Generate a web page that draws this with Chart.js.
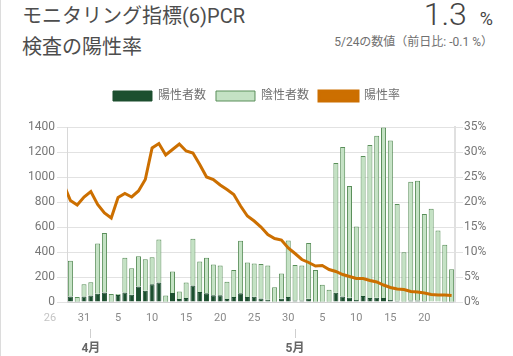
<!DOCTYPE html>
<html>
<head>
<meta charset="utf-8">
<script src="https://cdn.jsdelivr.net/npm/chart.js@4/dist/chart.umd.min.js"></script>
<style>
  html, body { margin:0; padding:0; background:#fff; }
  body { width:513px; height:356px; position:relative; overflow:hidden; font-family: Roboto, 'Noto Sans CJK JP', sans-serif; }
  #leftline { position:absolute; left:0; top:0; width:1px; height:356px; background:#dcdcdc; }
  #title { position:absolute; left:22px; top:1px; font-size:20px; line-height:31px; color:#4d4d4d; white-space:nowrap; }
  #value { position:absolute; right:20px; top:-2px; line-height:32px; color:#444; white-space:nowrap; }
  #value .num { font-size:32px; font-weight:300; }
  #value .unit { font-size:18px; margin-left:13px; }
  #sub { position:absolute; right:20px; top:35px; font-size:12px; line-height:15px; color:#707070; white-space:nowrap; }
  #wrap { position:absolute; left:0; top:80px; width:513px; height:276px; }
</style>
</head>
<body>
<div id="leftline"></div>
<div id="title">モニタリング指標(6)PCR<br>検査の陽性率</div>
<div id="value"><span class="num">1.3</span><span class="unit">%</span></div>
<div id="sub">5/24の数値（前日比: -0.1 %）</div>
<div id="wrap"><canvas id="c"></canvas></div>
<script>
// ---- data ----
const dates = ['3/28','3/29','3/30','3/31',
  '4/1','4/2','4/3','4/4','4/5','4/6','4/7','4/8','4/9','4/10',
  '4/11','4/12','4/13','4/14','4/15','4/16','4/17','4/18','4/19','4/20',
  '4/21','4/22','4/23','4/24','4/25','4/26','4/27','4/28','4/29','4/30',
  '5/1','5/2','5/3','5/4','5/5','5/6','5/7','5/8','5/9','5/10',
  '5/11','5/12','5/13','5/14','5/15','5/16','5/17','5/18','5/19','5/20',
  '5/21','5/22','5/23','5/24'];
const positives = [null,45,3,45,
  53,66,77,3,56,77,58,125,90,143,
  156,3,72,25,33,132,80,70,55,54,
  24,40,70,40,42,29,19,3,27,40,
  13,13,27,3,3,3,74,45,35,16,
  48,32,34,32,16,11,3,13,13,8,
  5,5,3,3];
const negatives = [null,286,37,98,
  106,403,475,61,8,278,213,241,252,215,
  344,50,173,60,124,374,245,285,245,238,
  139,217,420,277,267,276,273,116,201,453,
  284,279,445,254,135,95,1039,1195,893,588,
  1121,1224,1296,1365,1277,773,395,949,957,697,
  742,567,455,259];
const rates = [23.6,20.3,19.4,21.0,
  22.1,19.5,17.8,16.8,20.9,21.7,21.0,22.2,24.5,30.8,
  31.7,29.4,30.5,31.6,30.2,29.8,27.5,25.0,24.5,23.4,
  22.5,21.5,19.2,17.2,16.2,15.0,13.5,12.7,12.4,10.8,
  9.7,8.5,7.9,7.2,7.3,6.5,6.1,5.5,5.1,4.7,
  4.7,4.3,4.0,3.4,2.9,2.6,2.5,2.1,2.0,1.8,
  1.5,1.4,1.4,1.3];
const firstShownDate = '3/29';
const dayTickDates = ['3/31','4/5','4/10','4/15','4/20','4/25','4/30','5/5','5/10','5/15','5/20'];
const fadedTickLabel = '26';      // 3/26, just left of the visible range
const fadedTickDaysBefore = 2;    // days before dates[0]
const monthTickDates = ['4/1','5/1'];
const monthTickLabels = ['4月','5月'];
const seriesNames = ['陽性者数','陰性者数','陽性率'];
const leftTicks = [0,200,400,600,800,1000,1200,1400];
const rightTicks = [0,5,10,15,20,25,30,35];

const FONT = "Roboto, 'Noto Sans CJK JP', sans-serif";

const legendSpace = {
  id: 'legendSpace',
  beforeInit(chart) {
    const fit = chart.legend.fit;
    chart.legend.fit = function() { fit.bind(chart.legend)(); this.height += 15; };
  }
};
const fadedTick = {
  id: 'fadedTick',
  afterDraw(chart) {
    const xs = chart.scales.x;
    const ctx = chart.ctx;
    const px = xs.getPixelForValue(-fadedTickDaysBefore);
    ctx.save();
    ctx.fillStyle = '#c4c4c4';
    ctx.font = '11px ' + FONT;
    ctx.textAlign = 'center';
    ctx.textBaseline = 'middle';
    ctx.fillText(fadedTickLabel, px, xs.top + 16.5);
    ctx.restore();
  }
};

new Chart(document.getElementById('c'), {
  data: {
    labels: dates,
    datasets: [
      { type:'bar', label: seriesNames[0], data: positives, backgroundColor:'#1c4f2f', borderColor:'#1c4f2f', borderWidth:1,
        stack:'s', yAxisID:'y', order:1, barPercentage:0.74, categoryPercentage:1 },
      { type:'bar', label: seriesNames[1], data: negatives, backgroundColor:'#c4e2c4', borderColor:'#5a8f5a', borderWidth:1,
        stack:'s', yAxisID:'y', order:1, barPercentage:0.74, categoryPercentage:1 },
      { type:'line', label: seriesNames[2], data: rates, borderColor:'#cc6f00', backgroundColor:'#cc6f00', borderWidth:3,
        pointRadius:0, tension:0, yAxisID:'y1', order:0, clip:0 }
    ]
  },
  options: {
    responsive:true, maintainAspectRatio:false, animation:false,
    layout: { padding: 0 },
    plugins: {
      legend: { position:'top',
        labels: { boxWidth:39, boxHeight:10, padding:10, color:'#707070', font:{ size:12, family:FONT },
          sort:(a,b)=>a.datasetIndex-b.datasetIndex } },
      tooltip: { enabled:false }
    },
    scales: {
      x: { type:'category', stacked:true, offset:true, min:firstShownDate,
        grid:{ display:false, drawTicks:false }, border:{ display:true, color:'#d0d0d0' },
        ticks:{ autoSkip:false, maxRotation:0, padding:10, color:'#8a8a8a', font:{ size:11, family:FONT },
          callback(v){ const d = dates[v]; return dayTickDates.includes(d) ? d.split('/')[1] : ''; } },
        afterFit(s){ s.height = 27; } },
      x2: { type:'category', position:'bottom', offset:true, min:firstShownDate,
        grid:{ display:true, drawOnChartArea:false, drawTicks:true, tickLength:9, offset:false, color:'#cfcfcf' },
        border:{ display:false },
        ticks:{ autoSkip:false, maxRotation:0, padding:4, color:'#666', font:{ size:12, weight:'bold', family:FONT },
          callback(v){ const i = monthTickDates.indexOf(dates[v]); return i >= 0 ? monthTickLabels[i] : null; } },
        afterFit(s){ s.height = 27; } },
      y: { position:'left', stacked:true, min:0, max:1400,
        afterBuildTicks(s){ s.ticks = leftTicks.map(v=>({value:v})); },
        grid:{ color:'#e2e2e2', tickLength:10 }, border:{ color:'#d8d8d8' },
        ticks:{ padding:2, color:'#777', font:{ size:12, family:FONT }, callback(v){ return String(v); } },
        afterFit(s){ s.width = 67; } },
      y1: { position:'right', min:0, max:35,
        afterBuildTicks(s){ s.ticks = rightTicks.map(v=>({value:v})); },
        grid:{ drawOnChartArea:false, color:'#e2e2e2', tickLength:8 }, border:{ color:'#e0e0e0', width:2 },
        ticks:{ padding:1, color:'#777', font:{ size:12, family:FONT }, callback(v){ return v + '%'; } },
        afterFit(s){ s.width = 58; } }
    }
  },
  plugins: [legendSpace, fadedTick]
});
</script>
</body>
</html>
